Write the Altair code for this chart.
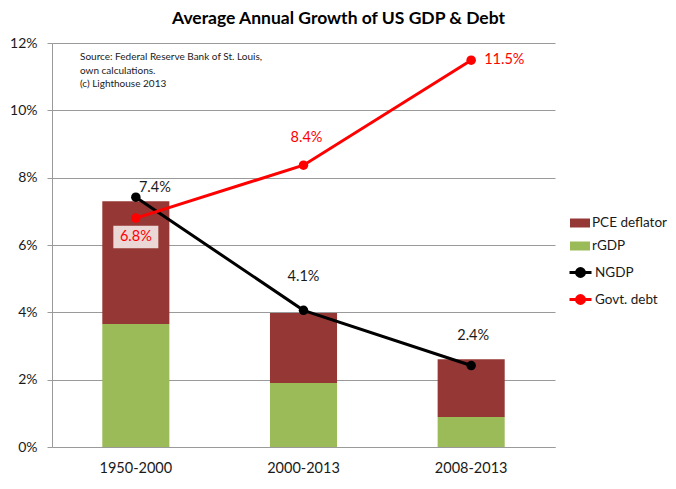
import altair as alt
import pandas as pd

periods = ["1950-2000", "2000-2013", "2008-2013"]
rgdp = [3.65, 1.90, 0.89]
pce = [3.65, 2.08, 1.72]
ngdp = [7.42, 4.06, 2.42]
debt = [6.80, 8.37, 11.49]
y_ticks = [0, 2, 4, 6, 8, 10, 12]
source_lines = ["Source: Federal Reserve Bank of St. Louis,", "own calculations.", "(c) Lighthouse 2013"]

FONT = "Lato"
BROWN = "#953735"
GREEN = "#9BBB59"
RED = "#FF0000"

bars = pd.DataFrame(
    [{"period": p, "series": "rGDP", "value": v, "ord": 0} for p, v in zip(periods, rgdp)]
    + [{"period": p, "series": "PCE deflator", "value": v, "ord": 1} for p, v in zip(periods, pce)]
)
lines = pd.DataFrame(
    [{"period": p, "series": "NGDP", "value": v, "label": f"{v:.1f}%"} for p, v in zip(periods, ngdp)]
    + [{"period": p, "series": "Govt. debt", "value": v, "label": f"{v:.1f}%"} for p, v in zip(periods, debt)]
)
src = pd.DataFrame({"t": [source_lines]})

xenc = alt.X("period:N", sort=periods, title=None,
             scale=alt.Scale(paddingInner=0.6, paddingOuter=0.3),
             axis=alt.Axis(labelAngle=0, labelFontSize=14.5, labelFont=FONT, labelColor="#1a1a1a",
                           ticks=False, tickSize=0, labelPadding=14, domainColor="#9a9a9a", grid=False))
yscale = alt.Scale(domain=[0, 12], nice=False)
yaxis = alt.Axis(values=y_ticks, labelExpr="datum.value + '%'", labelFontSize=14, labelFont=FONT,
                 labelColor="#1a1a1a", tickColor="#9a9a9a", tickSize=5, labelPadding=10,
                 domainColor="#9a9a9a", gridColor="#9a9a9a", title=None)

bar_layer = alt.Chart(bars).mark_bar().encode(
    x=xenc,
    y=alt.Y("value:Q", stack="zero", scale=yscale, axis=yaxis),
    fill=alt.Fill("series:N", scale=alt.Scale(domain=["PCE deflator", "rGDP"], range=[BROWN, GREEN]),
                  legend=alt.Legend(title=None, orient="none", legendX=518, legendY=170,
                                    symbolType="M-1,-0.45L1,-0.45L1,0.45L-1,0.45Z", symbolSize=400,
                                    symbolStrokeWidth=0, labelFontSize=13.5, labelFont=FONT,
                                    labelColor="#1a1a1a", labelOffset=2, rowPadding=6)),
    order=alt.Order("ord:Q"),
)

cscale = alt.Scale(domain=["NGDP", "Govt. debt"], range=["#000000", RED])
clegend = alt.Legend(title=None, orient="none", legendX=516, legendY=217,
                     symbolType="M-1,0L1,0M0.36,0A0.36,0.36 0 1,1 -0.36,0A0.36,0.36 0 1,1 0.36,0",
                     symbolSize=484, symbolStrokeWidth=3, labelFontSize=13.5, labelFont=FONT,
                     labelColor="#1a1a1a", labelOffset=2, rowPadding=4)

line_layer = alt.Chart(lines).mark_line(strokeWidth=3).encode(
    x=alt.X("period:N", sort=periods),
    y=alt.Y("value:Q", scale=yscale),
    color=alt.Color("series:N", scale=cscale, legend=clegend),
    detail="series:N",
)
point_layer = alt.Chart(lines).mark_circle(size=90, opacity=1).encode(
    x=alt.X("period:N", sort=periods),
    y=alt.Y("value:Q", scale=yscale),
    color=alt.Color("series:N", scale=cscale, legend=clegend),
)

def label(series, period, color, dx=0, dy=0, align="center"):
    return alt.Chart(lines).transform_filter(
        (alt.datum.series == series) & (alt.datum.period == period)
    ).mark_text(font=FONT, fontSize=14.5, color=color, dx=dx, dy=dy, align=align).encode(
        x=alt.X("period:N", sort=periods),
        y=alt.Y("value:Q", scale=yscale),
        text="label:N",
    )

box = alt.Chart(lines).transform_filter(
    (alt.datum.series == "Govt. debt") & (alt.datum.period == "1950-2000")
).mark_point(shape="M-1,-0.5L1,-0.5L1,0.5L-1,0.5Z", size=2025, filled=True, fill="white",
             fillOpacity=0.8, strokeWidth=0, yOffset=19).encode(
    x=alt.X("period:N", sort=periods),
    y=alt.Y("value:Q", scale=yscale),
)

src_layer = alt.Chart(src).mark_text(font=FONT, fontSize=10, align="left", baseline="middle",
                                     lineHeight=13.5, color="#1a1a1a").encode(
    x=alt.value(28), y=alt.value(14), text="t"
)

chart = alt.layer(
    bar_layer, box, line_layer, point_layer,
    label("NGDP", "1950-2000", "#1a1a1a", dx=19, dy=-9),
    label("NGDP", "2000-2013", "#1a1a1a", dy=-33),
    label("NGDP", "2008-2013", "#1a1a1a", dx=2, dy=-30),
    label("Govt. debt", "1950-2000", RED, dy=19),
    label("Govt. debt", "2000-2013", RED, dx=3, dy=-27),
    label("Govt. debt", "2008-2013", RED, dx=13, align="left"),
    src_layer,
).properties(
    width=503, height=404,
    title=alt.Title("Average Annual Growth of US GDP & Debt", font=FONT, fontSize=17.5,
                    fontWeight="bold", color="#000000", anchor="middle", dx=35, offset=9),
    autosize=alt.AutoSizeParams(type="none"),
    padding={"left": 44, "top": 35, "right": 113, "bottom": 34},
).configure_view(stroke=None).configure_axis(gridWidth=1)

chart.save("out.html", embed_options={"renderer": "svg", "actions": False})
